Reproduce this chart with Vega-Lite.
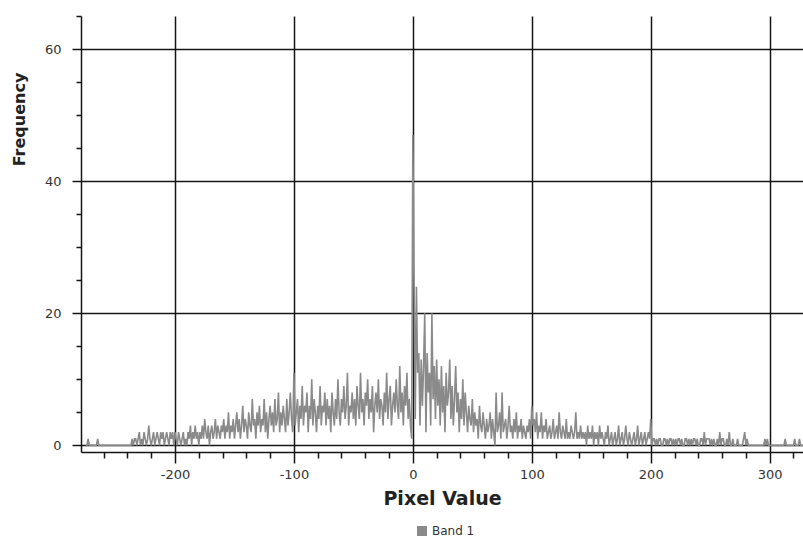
{
  "$schema": "https://vega.github.io/schema/vega-lite/v6.json",
  "width": 722,
  "height": 436,
  "autosize": "none",
  "padding": {"left": 81, "top": 16, "right": 0, "bottom": 86},
  "background": "white",
  "config": {"view": {"stroke": null}},
  "datasets": {
    "hist": [
      {"v":-275,"f":0},{"v":-274,"f":0},{"v":-273,"f":1},{"v":-272,"f":0},{"v":-271,"f":0},{"v":-270,"f":0},{"v":-269,"f":0},{"v":-268,"f":0},{"v":-267,"f":0},{"v":-266,"f":0},
      {"v":-265,"f":1},{"v":-264,"f":0},{"v":-263,"f":0},{"v":-262,"f":0},{"v":-261,"f":0},{"v":-260,"f":0},{"v":-259,"f":0},{"v":-258,"f":0},{"v":-257,"f":0},{"v":-256,"f":0},
      {"v":-255,"f":0},{"v":-254,"f":0},{"v":-253,"f":0},{"v":-252,"f":0},{"v":-251,"f":0},{"v":-250,"f":0},{"v":-249,"f":0},{"v":-248,"f":0},{"v":-247,"f":0},{"v":-246,"f":0},
      {"v":-245,"f":0},{"v":-244,"f":0},{"v":-243,"f":0},{"v":-242,"f":0},{"v":-241,"f":0},{"v":-240,"f":0},{"v":-239,"f":0},{"v":-238,"f":0},{"v":-237,"f":0},{"v":-236,"f":1},
      {"v":-235,"f":0},{"v":-234,"f":1},{"v":-233,"f":1},{"v":-232,"f":0},{"v":-231,"f":1},{"v":-230,"f":2},{"v":-229,"f":0},{"v":-228,"f":1},{"v":-227,"f":0},{"v":-226,"f":2},
      {"v":-225,"f":1},{"v":-224,"f":0},{"v":-223,"f":1},{"v":-222,"f":3},{"v":-221,"f":1},{"v":-220,"f":0},{"v":-219,"f":1},{"v":-218,"f":2},{"v":-217,"f":0},{"v":-216,"f":1},
      {"v":-215,"f":2},{"v":-214,"f":1},{"v":-213,"f":0},{"v":-212,"f":2},{"v":-211,"f":1},{"v":-210,"f":2},{"v":-209,"f":0},{"v":-208,"f":1},{"v":-207,"f":2},{"v":-206,"f":1},
      {"v":-205,"f":0},{"v":-204,"f":2},{"v":-203,"f":1},{"v":-202,"f":2},{"v":-201,"f":0},{"v":-200,"f":2},{"v":-199,"f":1},{"v":-198,"f":0},{"v":-197,"f":2},{"v":-196,"f":1},
      {"v":-195,"f":0},{"v":-194,"f":1},{"v":-193,"f":2},{"v":-192,"f":0},{"v":-191,"f":1},{"v":-190,"f":0},{"v":-189,"f":2},{"v":-188,"f":1},{"v":-187,"f":3},{"v":-186,"f":0},
      {"v":-185,"f":2},{"v":-184,"f":1},{"v":-183,"f":3},{"v":-182,"f":1},{"v":-181,"f":2},{"v":-180,"f":0},{"v":-179,"f":2},{"v":-178,"f":1},{"v":-177,"f":3},{"v":-176,"f":1},
      {"v":-175,"f":4},{"v":-174,"f":2},{"v":-173,"f":1},{"v":-172,"f":3},{"v":-171,"f":0},{"v":-170,"f":2},{"v":-169,"f":3},{"v":-168,"f":1},{"v":-167,"f":2},{"v":-166,"f":4},
      {"v":-165,"f":1},{"v":-164,"f":3},{"v":-163,"f":2},{"v":-162,"f":1},{"v":-161,"f":3},{"v":-160,"f":2},{"v":-159,"f":4},{"v":-158,"f":1},{"v":-157,"f":3},{"v":-156,"f":2},
      {"v":-155,"f":5},{"v":-154,"f":1},{"v":-153,"f":3},{"v":-152,"f":2},{"v":-151,"f":4},{"v":-150,"f":1},{"v":-149,"f":3},{"v":-148,"f":5},{"v":-147,"f":2},{"v":-146,"f":4},
      {"v":-145,"f":1},{"v":-144,"f":3},{"v":-143,"f":6},{"v":-142,"f":2},{"v":-141,"f":4},{"v":-140,"f":3},{"v":-139,"f":1},{"v":-138,"f":5},{"v":-137,"f":3},{"v":-136,"f":2},
      {"v":-135,"f":7},{"v":-134,"f":3},{"v":-133,"f":4},{"v":-132,"f":1},{"v":-131,"f":5},{"v":-130,"f":3},{"v":-129,"f":6},{"v":-128,"f":2},{"v":-127,"f":4},{"v":-126,"f":3},
      {"v":-125,"f":7},{"v":-124,"f":2},{"v":-123,"f":5},{"v":-122,"f":1},{"v":-121,"f":4},{"v":-120,"f":6},{"v":-119,"f":3},{"v":-118,"f":5},{"v":-117,"f":2},{"v":-116,"f":7},
      {"v":-115,"f":3},{"v":-114,"f":4},{"v":-113,"f":8},{"v":-112,"f":2},{"v":-111,"f":5},{"v":-110,"f":3},{"v":-109,"f":6},{"v":-108,"f":4},{"v":-107,"f":2},{"v":-106,"f":7},
      {"v":-105,"f":3},{"v":-104,"f":5},{"v":-103,"f":8},{"v":-102,"f":4},{"v":-101,"f":2},{"v":-100,"f":11},{"v":-99,"f":3},{"v":-98,"f":5},{"v":-97,"f":7},{"v":-96,"f":2},
      {"v":-95,"f":6},{"v":-94,"f":4},{"v":-93,"f":9},{"v":-92,"f":3},{"v":-91,"f":6},{"v":-90,"f":5},{"v":-89,"f":8},{"v":-88,"f":2},{"v":-87,"f":6},{"v":-86,"f":4},
      {"v":-85,"f":10},{"v":-84,"f":3},{"v":-83,"f":7},{"v":-82,"f":5},{"v":-81,"f":2},{"v":-80,"f":6},{"v":-79,"f":4},{"v":-78,"f":9},{"v":-77,"f":3},{"v":-76,"f":6},
      {"v":-75,"f":5},{"v":-74,"f":8},{"v":-73,"f":3},{"v":-72,"f":7},{"v":-71,"f":4},{"v":-70,"f":6},{"v":-69,"f":2},{"v":-68,"f":8},{"v":-67,"f":5},{"v":-66,"f":3},
      {"v":-65,"f":7},{"v":-64,"f":4},{"v":-63,"f":10},{"v":-62,"f":5},{"v":-61,"f":3},{"v":-60,"f":7},{"v":-59,"f":5},{"v":-58,"f":9},{"v":-57,"f":4},{"v":-56,"f":6},
      {"v":-55,"f":11},{"v":-54,"f":3},{"v":-53,"f":6},{"v":-52,"f":5},{"v":-51,"f":8},{"v":-50,"f":4},{"v":-49,"f":7},{"v":-48,"f":3},{"v":-47,"f":9},{"v":-46,"f":6},
      {"v":-45,"f":4},{"v":-44,"f":11},{"v":-43,"f":5},{"v":-42,"f":7},{"v":-41,"f":3},{"v":-40,"f":8},{"v":-39,"f":6},{"v":-38,"f":10},{"v":-37,"f":4},{"v":-36,"f":7},
      {"v":-35,"f":5},{"v":-34,"f":9},{"v":-33,"f":2},{"v":-32,"f":6},{"v":-31,"f":8},{"v":-30,"f":5},{"v":-29,"f":10},{"v":-28,"f":4},{"v":-27,"f":7},{"v":-26,"f":6},
      {"v":-25,"f":3},{"v":-24,"f":8},{"v":-23,"f":5},{"v":-22,"f":11},{"v":-21,"f":4},{"v":-20,"f":7},{"v":-19,"f":9},{"v":-18,"f":3},{"v":-17,"f":6},{"v":-16,"f":8},
      {"v":-15,"f":5},{"v":-14,"f":10},{"v":-13,"f":6},{"v":-12,"f":4},{"v":-11,"f":12},{"v":-10,"f":5},{"v":-9,"f":8},{"v":-8,"f":3},{"v":-7,"f":9},{"v":-6,"f":6},
      {"v":-5,"f":11},{"v":-4,"f":4},{"v":-3,"f":7},{"v":-2,"f":3},{"v":-1,"f":1},{"v":0,"f":47},{"v":1,"f":25},{"v":2,"f":4},{"v":3,"f":24},{"v":4,"f":11},
      {"v":5,"f":14},{"v":6,"f":3},{"v":7,"f":13},{"v":8,"f":6},{"v":9,"f":12},{"v":10,"f":20},{"v":11,"f":2},{"v":12,"f":14},{"v":13,"f":8},{"v":14,"f":11},
      {"v":15,"f":3},{"v":16,"f":20},{"v":17,"f":7},{"v":18,"f":12},{"v":19,"f":4},{"v":20,"f":13},{"v":21,"f":6},{"v":22,"f":10},{"v":23,"f":3},{"v":24,"f":12},
      {"v":25,"f":5},{"v":26,"f":9},{"v":27,"f":2},{"v":28,"f":11},{"v":29,"f":6},{"v":30,"f":8},{"v":31,"f":13},{"v":32,"f":4},{"v":33,"f":9},{"v":34,"f":3},
      {"v":35,"f":7},{"v":36,"f":12},{"v":37,"f":5},{"v":38,"f":8},{"v":39,"f":2},{"v":40,"f":7},{"v":41,"f":4},{"v":42,"f":10},{"v":43,"f":3},{"v":44,"f":8},
      {"v":45,"f":5},{"v":46,"f":2},{"v":47,"f":6},{"v":48,"f":4},{"v":49,"f":3},{"v":50,"f":7},{"v":51,"f":2},{"v":52,"f":5},{"v":53,"f":3},{"v":54,"f":4},
      {"v":55,"f":1},{"v":56,"f":6},{"v":57,"f":3},{"v":58,"f":2},{"v":59,"f":5},{"v":60,"f":3},{"v":61,"f":1},{"v":62,"f":4},{"v":63,"f":2},{"v":64,"f":3},
      {"v":65,"f":5},{"v":66,"f":1},{"v":67,"f":4},{"v":68,"f":2},{"v":69,"f":0},{"v":70,"f":8},{"v":71,"f":2},{"v":72,"f":3},{"v":73,"f":5},{"v":74,"f":1},
      {"v":75,"f":8},{"v":76,"f":2},{"v":77,"f":3},{"v":78,"f":4},{"v":79,"f":1},{"v":80,"f":3},{"v":81,"f":6},{"v":82,"f":2},{"v":83,"f":3},{"v":84,"f":1},
      {"v":85,"f":4},{"v":86,"f":2},{"v":87,"f":5},{"v":88,"f":1},{"v":89,"f":3},{"v":90,"f":2},{"v":91,"f":4},{"v":92,"f":1},{"v":93,"f":3},{"v":94,"f":2},
      {"v":95,"f":1},{"v":96,"f":3},{"v":97,"f":2},{"v":98,"f":4},{"v":99,"f":1},{"v":100,"f":6},{"v":101,"f":3},{"v":102,"f":4},{"v":103,"f":2},{"v":104,"f":5},
      {"v":105,"f":1},{"v":106,"f":3},{"v":107,"f":2},{"v":108,"f":5},{"v":109,"f":1},{"v":110,"f":3},{"v":111,"f":2},{"v":112,"f":4},{"v":113,"f":1},{"v":114,"f":2},
      {"v":115,"f":3},{"v":116,"f":1},{"v":117,"f":2},{"v":118,"f":4},{"v":119,"f":1},{"v":120,"f":2},{"v":121,"f":3},{"v":122,"f":1},{"v":123,"f":5},{"v":124,"f":2},
      {"v":125,"f":1},{"v":126,"f":3},{"v":127,"f":2},{"v":128,"f":1},{"v":129,"f":4},{"v":130,"f":1},{"v":131,"f":2},{"v":132,"f":1},{"v":133,"f":3},{"v":134,"f":2},
      {"v":135,"f":1},{"v":136,"f":2},{"v":137,"f":5},{"v":138,"f":1},{"v":139,"f":2},{"v":140,"f":1},{"v":141,"f":3},{"v":142,"f":1},{"v":143,"f":2},{"v":144,"f":1},
      {"v":145,"f":2},{"v":146,"f":0},{"v":147,"f":3},{"v":148,"f":1},{"v":149,"f":2},{"v":150,"f":1},{"v":151,"f":3},{"v":152,"f":0},{"v":153,"f":2},{"v":154,"f":1},
      {"v":155,"f":2},{"v":156,"f":0},{"v":157,"f":3},{"v":158,"f":1},{"v":159,"f":2},{"v":160,"f":1},{"v":161,"f":0},{"v":162,"f":2},{"v":163,"f":1},{"v":164,"f":3},
      {"v":165,"f":0},{"v":166,"f":1},{"v":167,"f":2},{"v":168,"f":0},{"v":169,"f":1},{"v":170,"f":2},{"v":171,"f":0},{"v":172,"f":1},{"v":173,"f":3},{"v":174,"f":0},
      {"v":175,"f":1},{"v":176,"f":2},{"v":177,"f":0},{"v":178,"f":1},{"v":179,"f":3},{"v":180,"f":1},{"v":181,"f":0},{"v":182,"f":2},{"v":183,"f":1},{"v":184,"f":0},
      {"v":185,"f":1},{"v":186,"f":2},{"v":187,"f":0},{"v":188,"f":1},{"v":189,"f":3},{"v":190,"f":0},{"v":191,"f":1},{"v":192,"f":2},{"v":193,"f":0},{"v":194,"f":1},
      {"v":195,"f":2},{"v":196,"f":0},{"v":197,"f":1},{"v":198,"f":2},{"v":199,"f":1},{"v":200,"f":4},{"v":201,"f":0},{"v":202,"f":1},{"v":203,"f":1},{"v":204,"f":0},
      {"v":205,"f":1},{"v":206,"f":0},{"v":207,"f":1},{"v":208,"f":1},{"v":209,"f":0},{"v":210,"f":0},{"v":211,"f":1},{"v":212,"f":1},{"v":213,"f":0},{"v":214,"f":1},
      {"v":215,"f":0},{"v":216,"f":1},{"v":217,"f":1},{"v":218,"f":0},{"v":219,"f":1},{"v":220,"f":0},{"v":221,"f":1},{"v":222,"f":0},{"v":223,"f":1},{"v":224,"f":1},
      {"v":225,"f":0},{"v":226,"f":1},{"v":227,"f":0},{"v":228,"f":0},{"v":229,"f":1},{"v":230,"f":1},{"v":231,"f":0},{"v":232,"f":1},{"v":233,"f":0},{"v":234,"f":1},
      {"v":235,"f":0},{"v":236,"f":1},{"v":237,"f":1},{"v":238,"f":0},{"v":239,"f":1},{"v":240,"f":0},{"v":241,"f":0},{"v":242,"f":1},{"v":243,"f":1},{"v":244,"f":0},
      {"v":245,"f":2},{"v":246,"f":0},{"v":247,"f":1},{"v":248,"f":1},{"v":249,"f":1},{"v":250,"f":0},{"v":251,"f":1},{"v":252,"f":0},{"v":253,"f":1},{"v":254,"f":0},
      {"v":255,"f":0},{"v":256,"f":1},{"v":257,"f":0},{"v":258,"f":2},{"v":259,"f":0},{"v":260,"f":1},{"v":261,"f":1},{"v":262,"f":0},{"v":263,"f":0},{"v":264,"f":1},
      {"v":265,"f":0},{"v":266,"f":2},{"v":267,"f":0},{"v":268,"f":0},{"v":269,"f":1},{"v":270,"f":0},{"v":271,"f":0},{"v":272,"f":0},{"v":273,"f":1},{"v":274,"f":0},
      {"v":275,"f":0},{"v":276,"f":0},{"v":277,"f":0},{"v":278,"f":1},{"v":279,"f":2},{"v":280,"f":0},{"v":281,"f":1},{"v":282,"f":0},{"v":283,"f":0},{"v":284,"f":0},
      {"v":285,"f":0},{"v":286,"f":0},{"v":287,"f":0},{"v":288,"f":0},{"v":289,"f":0},{"v":290,"f":0},{"v":291,"f":0},{"v":292,"f":0},{"v":293,"f":0},{"v":294,"f":0},
      {"v":295,"f":0},{"v":296,"f":1},{"v":297,"f":0},{"v":298,"f":1},{"v":299,"f":0},{"v":300,"f":0},{"v":301,"f":0},{"v":302,"f":0},{"v":303,"f":0},{"v":304,"f":0},
      {"v":305,"f":0},{"v":306,"f":0},{"v":307,"f":0},{"v":308,"f":0},{"v":309,"f":0},{"v":310,"f":0},{"v":311,"f":0},{"v":312,"f":0},{"v":313,"f":1},{"v":314,"f":0},
      {"v":315,"f":0},{"v":316,"f":0},{"v":317,"f":0},{"v":318,"f":0},{"v":319,"f":0},{"v":320,"f":0},{"v":321,"f":1},{"v":322,"f":0},{"v":323,"f":0},{"v":324,"f":0},
      {"v":325,"f":1},{"v":326,"f":0},{"v":327,"f":0},{"v":328,"f":0}
    ]
  },
  "data": {"name": "hist"},
  "mark": {"type": "line", "strokeWidth": 1.6, "interpolate": "linear", "clip": true},
  "encoding": {
    "x": {
      "field": "v",
      "type": "quantitative",
      "scale": {"domain": [-279, 328], "nice": false, "zero": false},
      "axis": {
        "values": [-260,-240,-220,-200,-180,-160,-140,-120,-100,-80,-60,-40,-20,0,20,40,60,80,100,120,140,160,180,200,220,240,260,280,300,320],
        "labelExpr": "datum.value % 100 === 0 ? '' + datum.value : ''",
        "tickSize": {"condition": {"test": "datum.value % 100 === 0", "value": 11}, "value": 6},
        "grid": true,
        "gridColor": "#151515",
        "gridWidth": 1.5,
        "gridOpacity": {"condition": {"test": "datum.value % 100 === 0", "value": 1}, "value": 0},
        "domainColor": "#151515",
        "domainWidth": 1.5,
        "tickColor": "#151515",
        "tickWidth": 1.5,
        "labelFont": "DejaVu Sans",
        "labelFontSize": 13,
        "labelColor": "#333333",
        "labelPadding": 5,
        "labelFlush": false,
        "labelOverlap": false,
        "title": "Pixel Value",
        "titleFont": "DejaVu Sans",
        "titleFontSize": 19,
        "titleFontWeight": "bold",
        "titleColor": "#222222",
        "titlePadding": 8
      }
    },
    "y": {
      "field": "f",
      "type": "quantitative",
      "scale": {"domain": [-1, 65], "nice": false, "zero": false},
      "axis": {
        "values": [0,5,10,15,20,25,30,35,40,45,50,55,60,65],
        "labelExpr": "datum.value % 20 === 0 ? '' + datum.value : ''",
        "tickSize": {"condition": {"test": "datum.value % 20 === 0", "value": 9}, "value": 5},
        "grid": true,
        "gridColor": "#151515",
        "gridWidth": 1.5,
        "gridOpacity": {"condition": {"test": "datum.value % 20 === 0", "value": 1}, "value": 0},
        "domainColor": "#151515",
        "domainWidth": 1.5,
        "tickColor": "#151515",
        "tickWidth": 1.5,
        "labelFont": "DejaVu Sans",
        "labelFontSize": 13,
        "labelColor": "#333333",
        "labelPadding": 11,
        "labelFlush": false,
        "labelOverlap": false,
        "title": "Frequency",
        "titleFont": "DejaVu Sans",
        "titleFontSize": 16,
        "titleFontWeight": "bold",
        "titleColor": "#222222",
        "titleAngle": -90,
        "titleAlign": "center",
        "titleBaseline": "middle",
        "titleX": -62,
        "titleY": 103
      }
    },
    "color": {
      "datum": "Band 1",
      "type": "nominal",
      "scale": {"range": ["#8a8a8a"]},
      "legend": {
        "title": null,
        "orient": "none",
        "legendX": 335,
        "legendY": 509,
        "symbolType": "square",
        "symbolSize": 100,
        "symbolFillColor": "#8a8a8a",
        "symbolStrokeWidth": 0,
        "labelFont": "DejaVu Sans",
        "labelFontSize": 12,
        "labelColor": "#333333",
        "labelOffset": 4
      }
    }
  }
}
